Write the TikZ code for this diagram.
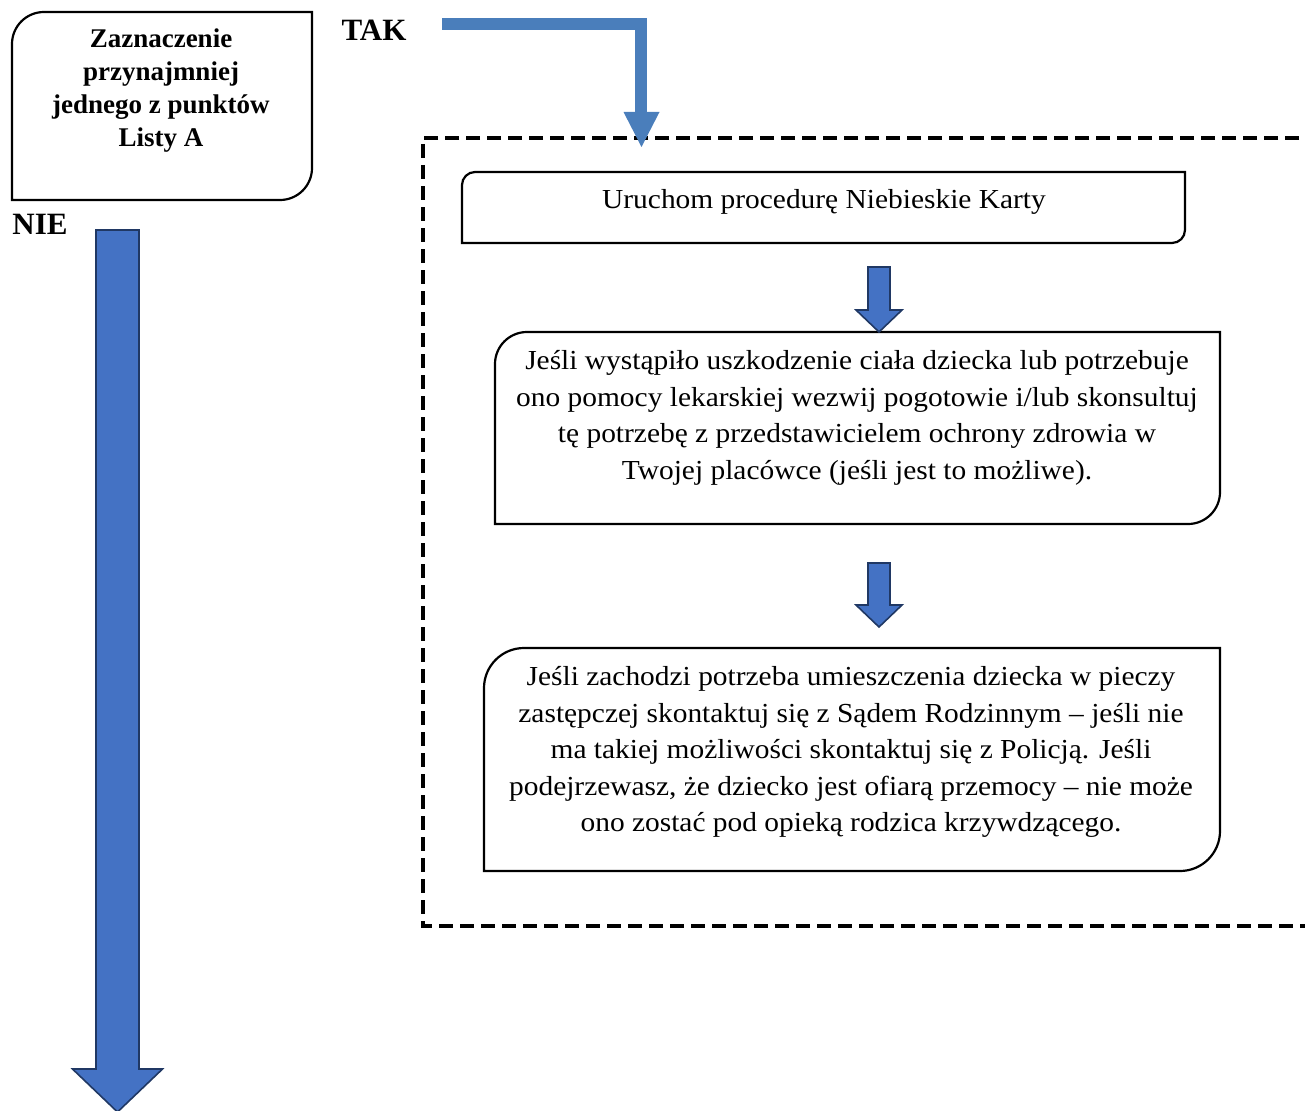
\documentclass[tikz,border=0pt]{standalone}
\usepackage{fontspec}
\setmainfont{Liberation Serif}
\newfontfamily\regfont[FakeStretch=1.07]{Liberation Serif}
\begin{document}
\begin{tikzpicture}[x=1pt,y=-1pt,
  boxline/.style={draw=black,line width=2.2pt},
  hidden/.style={inner sep=0pt,outer sep=0pt},
  txt/.style={align=center,inner sep=0pt,font=\regfont\fontsize{27.5}{36.5}\selectfont},
  btxt/.style={align=center,inner sep=0pt,font=\fontsize{27}{33}\selectfont\bfseries},
  label/.style={inner sep=0pt,font=\fontsize{31}{36}\selectfont\bfseries},
  blockarr/.style={fill=arrfill,draw=arredge,line width=1.6pt,line join=miter},
  takline/.style={draw=takblue,line width=12pt,line join=miter},
  dashbox/.style={draw=black,line width=4.5pt,dash pattern=on 14pt off 7pt}
]
\definecolor{arrfill}{HTML}{4472C4}
\definecolor{arredge}{HTML}{203864}
\definecolor{takblue}{HTML}{4A7EBB}
\useasboundingbox (0,0) rectangle (1305,1110);
\clip (0,0) rectangle (1305,1110);

% rounded diagonal box: #1 name, #2 x1, #3 y1, #4 x2, #5 y2, #6 radius
\newcommand\diagbox[6]{%
  \node[hidden,minimum width={#4-#2},minimum height={#5-#3}] (#1) at ({(#2+#4)/2},{(#3+#5)/2}) {};
  \draw[boxline] (#1.south west) -- ([yshift=-#6pt]#1.north west)
    arc[start angle=180,end angle=90,radius=#6pt] -- (#1.north east)
    -- ([yshift=#6pt]#1.south east)
    arc[start angle=0,end angle=-90,radius=#6pt] -- cycle;}

% block arrow down: #1 xc, #2 ytop, #3 yhead, #4 ytip, #5 half shaft, #6 half head
\newcommand\blockdown[6]{%
  \draw[blockarr] ({#1-#5},#2) -- ({#1+#5},#2) -- ({#1+#5},#3) -- ({#1+#6},#3)
    -- (#1,#4) -- ({#1-#6},#3) -- ({#1-#5},#3) -- cycle;}

% dashed frame (open on the right)
\coordinate (fTR) at (1320,138);
\coordinate (fTL) at (423,138);
\coordinate (fBL) at (423,926);
\coordinate (fBR) at (1320,926);
\draw[dashbox] (fTR) -- (fTL) -- (fBL) -- (fBR);

% boxes
\diagbox{boxA}{12}{12}{312}{200}{32}
\node[btxt] (tA) at (161,91) {Zaznaczenie\\przynajmniej\\jednego z punktów\\Listy A};

\diagbox{box1}{462}{172}{1185}{243}{13}
\node[txt] (t1) at (824,202) {Uruchom procedurę Niebieskie Karty};

\diagbox{box2}{495}{332}{1220}{524}{32}
\node[txt] (t2) at (857,418) {Jeśli wystąpiło uszkodzenie ciała dziecka lub potrzebuje\\ono pomocy lekarskiej wezwij pogotowie i/lub skonsultuj\\tę potrzebę z przedstawicielem ochrony zdrowia w\\Twojej placówce (jeśli jest to możliwe).};

\diagbox{box3}{484}{648}{1220}{871}{40}
\node[txt] (t3) at (851,752) {Jeśli zachodzi potrzeba umieszczenia dziecka w pieczy\\zastępczej skontaktuj się z Sądem Rodzinnym – jeśli nie\\ma takiej możliwości skontaktuj się z Policją. Jeśli\\podejrzewasz, że dziecko jest ofiarą przemocy – nie może\\ono zostać pod opieką rodzica krzywdzącego.};

% labels
\node[label] (tak) at (374,30) {TAK};
\node[label] (nie) at (40,224) {NIE};

% TAK connector
\coordinate (takS) at (442,24);
\coordinate (takC) at (641,24);
\coordinate (takE) at (641,113);
\draw[takline] (takS) -- (takC) -- (takE);
\fill[takblue] (623.5,112) -- (659.5,112) -- (641.5,147) -- cycle;

% block arrows
\blockdown{879}{267}{310}{332}{11}{23}
\blockdown{879}{563}{605}{627}{11}{23}
\blockdown{117.5}{230}{1069}{1112}{21.5}{45}
\end{tikzpicture}
\end{document}
